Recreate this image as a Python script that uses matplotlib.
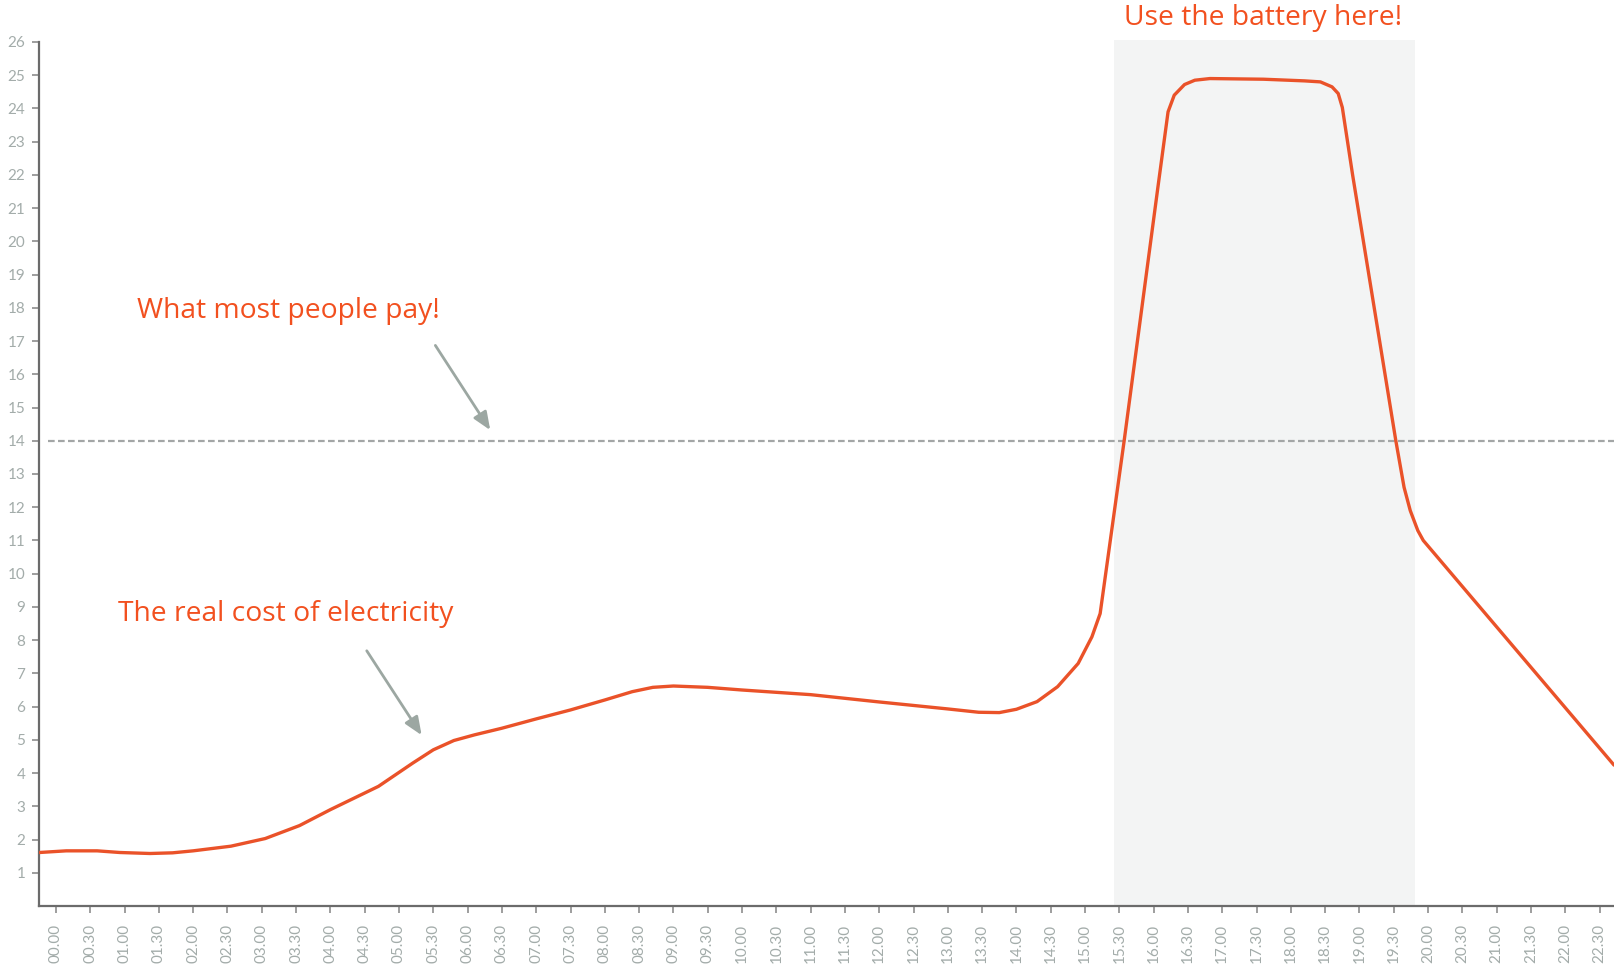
import matplotlib
matplotlib.use("Agg")
import matplotlib.pyplot as plt
import numpy as np

# half-hour slots, labelled like the reference
tick_hours = np.arange(0, 23, 0.5)
tick_labels = ["%02d.%s" % (int(h), "30" if h % 1 else "00") for h in tick_hours]

# real cost curve (hour, value)
cost_hours = [-0.24, 0.15, 0.6, 0.93, 1.37, 1.7, 2.0, 2.55, 3.05, 3.55, 4.0, 4.7, 5.2,
              5.5, 5.8, 6.1, 6.5, 7.0, 7.5, 8.0, 8.4, 8.7, 9.0, 9.5, 10.0, 11.0, 12.0,
              13.0, 13.45, 13.75, 14.0, 14.3, 14.6, 14.9, 15.1, 15.22, 15.57, 16.06,
              16.21, 16.3, 16.45, 16.6, 16.82, 17.6, 18.2, 18.43, 18.6, 18.69, 18.75,
              18.9, 19.53, 19.65, 19.74, 19.85, 19.93, 22.71]
cost_values = [1.61, 1.66, 1.66, 1.61, 1.58, 1.6, 1.66, 1.8, 2.03, 2.42, 2.9, 3.6, 4.3,
               4.7, 4.98, 5.15, 5.35, 5.63, 5.9, 6.2, 6.45, 6.58, 6.62, 6.58, 6.5, 6.36,
               6.14, 5.93, 5.83, 5.82, 5.92, 6.15, 6.6, 7.3, 8.1, 8.8, 14.0, 21.6,
               23.9, 24.4, 24.72, 24.85, 24.9, 24.88, 24.83, 24.8, 24.65, 24.45, 24.03,
               22.0, 14.0, 12.6, 11.9, 11.3, 11.0, 4.24]

flat_rate = 14
battery_start, battery_end = 15.42, 19.81

orange = "#ea5229"
text_orange = "#f2501f"
grey_txt = "#a3acaa"

fig = plt.figure(figsize=(16.14, 9.69), dpi=100)
ax = fig.add_axes([39.3 / 1614, 63 / 969, 1 - 39.3 / 1614, (906 - 42) / 969])
ax.set_xlim(-0.243, 22.71)
ax.set_ylim(0, 26)

ax.axvspan(battery_start, battery_end, ymin=0, ymax=26.07 / 26, color="#f3f4f4",
           lw=0, clip_on=False, zorder=0)
ax.plot([-0.12, 22.71], [flat_rate, flat_rate], color="#a3a6a6", lw=1.6,
        dashes=(3, 1.5), zorder=1)
ax.plot(cost_hours, cost_values, color=orange, lw=2.4, solid_joinstyle="round",
        solid_capstyle="round", zorder=3)

for s in ["top", "right"]:
    ax.spines[s].set_visible(False)
for s in ["left", "bottom"]:
    ax.spines[s].set_color("#6b6b6b")
    ax.spines[s].set_linewidth(1.6)

ax.set_yticks(range(1, 27))
ax.set_xticks(tick_hours)
ax.set_xticklabels(tick_labels, rotation=90)
ax.tick_params(axis="both", colors="#8e8e8e", length=5, width=1.2,
               labelcolor=grey_txt, labelsize=11)
ax.tick_params(axis="y", pad=5)
ax.tick_params(axis="x", pad=8)
for lab in ax.get_xticklabels() + ax.get_yticklabels():
    lab.set_family("Lato")

arrow = dict(arrowstyle="-|>,head_length=0.6,head_width=0.25", color="#9ca7a2",
             lw=2, mutation_scale=18, shrinkA=0, shrinkB=0)
ax.annotate("", xy=(6.33, 14.32), xytext=(5.53, 16.87), arrowprops=arrow)
ax.annotate("", xy=(5.33, 5.14), xytext=(4.53, 7.68), arrowprops=arrow)

tfont = dict(family="Open Sans", color=text_orange, fontsize=20.3, va="baseline")
ax.text(1.18, 17.68, "What most people pay!", ha="left", **tfont)
ax.text(0.9, 8.58, "The real cost of electricity", ha="left", **tfont)
ax.text(17.6, 26.5, "Use the battery here!", ha="center", clip_on=False, **tfont)

fig.savefig("out.png", dpi=100)
